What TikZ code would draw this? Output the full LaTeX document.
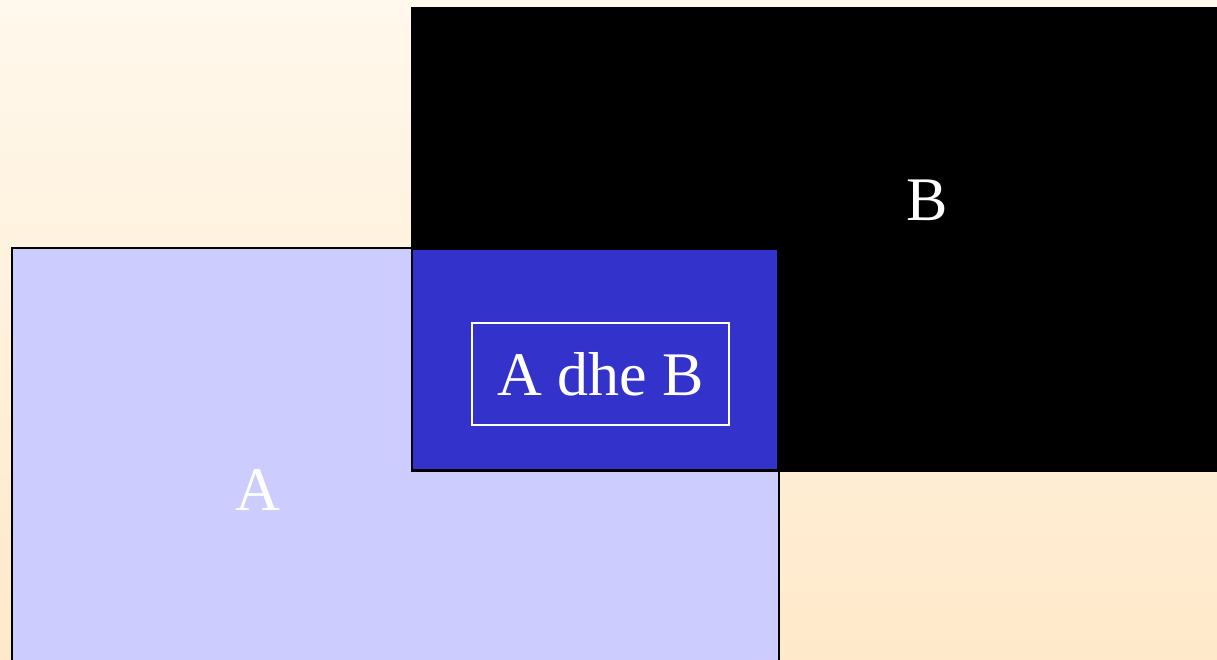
\documentclass[tikz,border=0pt]{standalone}
\usepackage{fontspec}
\setmainfont{Liberation Serif}
\definecolor{bgtop}{HTML}{FFF8EC}
\definecolor{bgbot}{HTML}{FFE9CA}
\definecolor{setA}{HTML}{CCCCFF}
\definecolor{setAB}{HTML}{3333CC}
\tikzset{
  setbox/.style={draw=black, line width=2pt, inner sep=0pt, anchor=north west},
  biglabel/.style={text=white, inner sep=0pt, font=\fontsize{62}{70}\selectfont},
}
\begin{document}
\begin{tikzpicture}[x=1pt,y=-1pt]
\useasboundingbox (0,0) rectangle (1217,659);
\clip (0,0) rectangle (1217,659);
% background
\shade[top color=bgtop, bottom color=bgbot] (0,0) rectangle (1217,659);
% set A
\node[setbox, fill=setA, minimum width=767pt, minimum height=460pt] (A) at (11,247) {};
% set B
\node[setbox, fill=black, minimum width=900pt, minimum height=463pt] (B) at (411,7) {};
% intersection
\node[setbox, fill=setAB, line width=1.5pt, minimum width=366pt, minimum height=221pt] (AB) at (411,248) {};
% labels
\node[biglabel] (la) at (258,490) {A};
\node[biglabel] (lb) at (927,200) {B};
\node[biglabel, draw=white, line width=1.5pt, minimum width=257pt, minimum height=102pt] (lab) at (600.5,374) {A dhe B};
\end{tikzpicture}
\end{document}
